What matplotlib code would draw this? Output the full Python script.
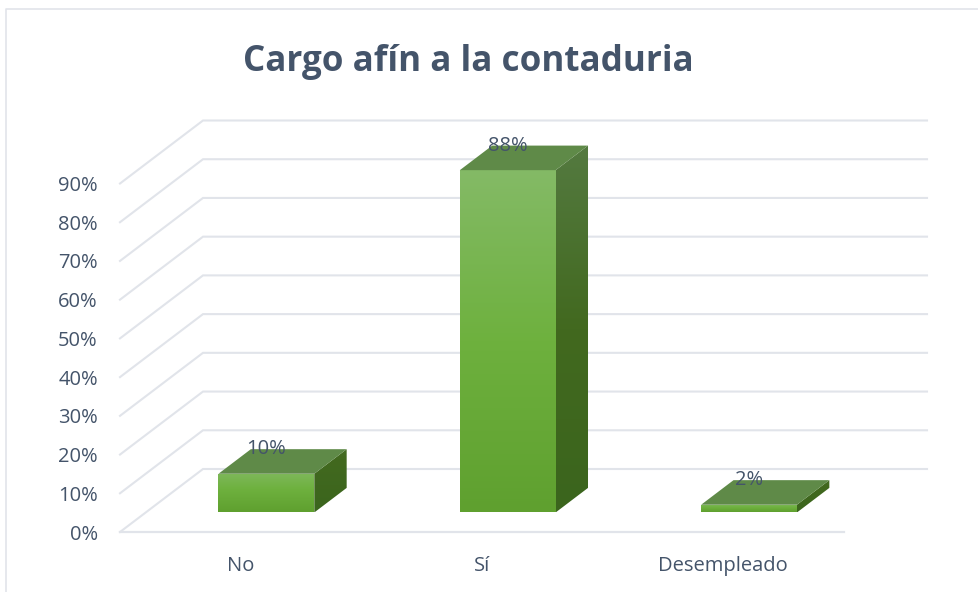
import numpy as np
import matplotlib
matplotlib.use("Agg")
import matplotlib.pyplot as plt
from matplotlib.patches import Polygon
from matplotlib.colors import LinearSegmentedColormap

categories = ["No", "Sí", "Desempleado"]
values = [10, 88.4, 2]
bar_labels = ["10%", "88%", "2%"]
ticks = list(range(0, 100, 10))
tick_labels = [f"{t}%" for t in ticks]
title = "Cargo afín a la contaduria"

W, H = 979, 592
plt.rcParams["font.family"] = ["Open Sans", "DejaVu Sans"]
TXT = "#44546a"
GRID = "#e1e4ea"

fig = plt.figure(figsize=(W / 100, H / 100), dpi=100)
L, R, B0, T90 = 120, 844, 532, 183.5
ax = fig.add_axes([L / W, 1 - B0 / H, (R - L) / W, (B0 - T90) / H])
ax.set_xlim(0, 3)
ax.set_ylim(0, 90)
for s in ax.spines.values():
    s.set_visible(False)
ax.patch.set_alpha(0)

DX = 83 / ((R - L) / 3)       # full floor depth, in category units
DY = 63 / ((B0 - T90) / 90)   # full floor depth, in value units


def proj(x, v, d):
    return x + d * DX, v + d * DY


# walls and floor grid
for t in ticks:
    x0, y0 = proj(0, t, 0)
    x1, y1 = proj(0, t, 1)
    x2, y2 = proj(3, t, 1)
    ax.plot([x0, x1, x2], [y0, y1, y2], color=GRID, lw=1.5, clip_on=False,
            solid_joinstyle="miter", zorder=1)
ax.plot([0, 3], [0, 0], color=GRID, lw=1.6, clip_on=False, zorder=1)

front_cm = LinearSegmentedColormap.from_list(
    "f", ["#5fa02f", "#6eb13e", "#84ba66"])
side_cm = LinearSegmentedColormap.from_list(
    "s", ["#3b651d", "#42691f", "#547a40"])
top_col = "#5f8a48"
WID = 0.397
D0, D1 = 0.31, 0.70


def grad_face(pts, cmap, z, lo=0.0, hi=1.0):
    pts = np.array(pts)
    poly = Polygon(pts, closed=True, fc="none", ec="none",
                   transform=ax.transData, clip_on=False)
    ax.add_patch(poly)
    g = np.linspace(lo, hi, 128).reshape(-1, 1)
    im = ax.imshow(g, cmap=cmap, vmin=0, vmax=1, origin="lower", aspect="auto",
                   extent=[pts[:, 0].min(), pts[:, 0].max(),
                           pts[:, 1].min(), pts[:, 1].max()],
                   zorder=z, interpolation="bilinear")
    im.set_clip_box(fig.bbox)
    im.set_clip_path(poly)


for i, (cat, v, lab) in enumerate(zip(categories, values, bar_labels)):
    c = i + 0.5
    xa, xb = c - WID / 2, c + WID / 2
    side = [proj(xb, 0, D0), proj(xb, 0, D1), proj(xb, v, D1), proj(xb, v, D0)]
    grad_face(side, side_cm, 3, lo=0.0, hi=max(v / 88.4, 0.6))
    front = [proj(xa, 0, D0), proj(xb, 0, D0), proj(xb, v, D0), proj(xa, v, D0)]
    grad_face(front, front_cm, 4, lo=0.0, hi=max(v / 88.4, 0.85))
    top = [proj(xa, v, D0), proj(xb, v, D0), proj(xb, v, D1), proj(xa, v, D1)]
    ax.add_patch(Polygon(top, closed=True, fc=top_col, ec="none", zorder=5,
                         clip_on=False))
    ax.text(proj(c, v, D0)[0], proj(c, v, D1)[1], lab, ha="center", va="center",
            color=TXT, fontsize=14.5, zorder=6, clip_on=False)

ax.set_xlim(0, 3)
ax.set_ylim(0, 90)
ax.set_xticks([i + 0.5 for i in range(3)], categories)
ax.set_yticks(ticks, tick_labels)
ax.tick_params(axis="x", length=0, pad=17, labelsize=14.5, labelcolor=TXT)
ax.tick_params(axis="y", length=0, pad=16, labelsize=14.5, labelcolor=TXT)

# outer frame
fig.add_artist(plt.Line2D([6 / W, 6 / W, 1], [0, 1 - 8.5 / H, 1 - 8.5 / H],
                          color=GRID, lw=1.2, transform=fig.transFigure))
fig.text(468 / W, 1 - 62 / H, title, ha="center", va="center", color=TXT,
         fontsize=25.2, fontweight="bold")

fig.savefig("out.png", dpi=100, facecolor="white")
